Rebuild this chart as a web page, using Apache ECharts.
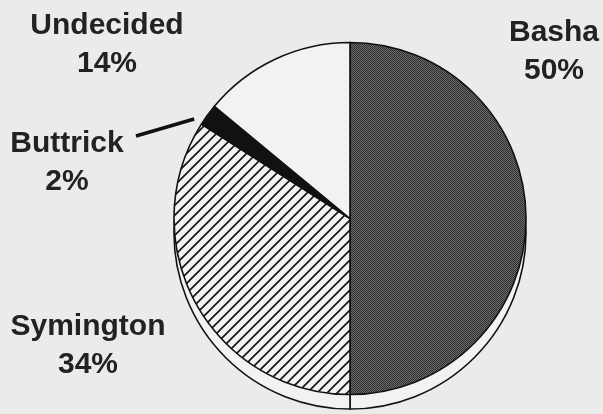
<!DOCTYPE html>
<html><head><meta charset="utf-8">
<script src="https://cdn.jsdelivr.net/npm/echarts@6/dist/echarts.min.js"></script>
<style>html,body{margin:0;padding:0;background:#ebebeb}#c{width:603px;height:414px}</style>
</head><body><div id="c"></div>
<script>
const categories = ['Basha', 'Symington', 'Buttrick', 'Undecided'];
const shares = [50, 34, 2, 14];

function hatch() {
  const c = document.createElement('canvas'); c.width = 10; c.height = 10;
  const g = c.getContext('2d');
  g.fillStyle = '#f2f2f2'; g.fillRect(0, 0, 10, 10);
  g.strokeStyle = '#111'; g.lineWidth = 1.6;
  g.beginPath();
  g.moveTo(-5, 5); g.lineTo(5, -5);
  g.moveTo(0, 10); g.lineTo(10, 0);
  g.moveTo(5, 15); g.lineTo(15, 5);
  g.stroke();
  return c;
}
function halftone() {
  const c = document.createElement('canvas'); c.width = 2; c.height = 2;
  const g = c.getContext('2d');
  g.fillStyle = '#6a6a6a'; g.fillRect(0, 0, 2, 2);
  g.fillStyle = '#303030'; g.fillRect(0, 0, 1, 1); g.fillRect(1, 1, 1, 1);
  return c;
}
const fills = [
  { image: halftone(), repeat: 'repeat' },
  { image: hatch(), repeat: 'repeat' },
  '#111',
  '#f2f2f2'
];
const labelPos = [[554, 52], [88, 346], [67, 163], [107, 45]];

const chart = echarts.init(document.getElementById('c'));
const mainData = categories.map((n, i) => ({
  name: n, value: shares[i],
  itemStyle: { color: fills[i] },
  labelLine: { show: n === 'Buttrick' }
}));
const shadowData = categories.map((n, i) => ({ name: n, value: shares[i] }));

chart.setOption({
  backgroundColor: '#ebebeb',
  animation: false,
  series: [
    {
      type: 'pie', silent: true, z: 1,
      center: [350, 233], radius: 176, startAngle: 90, clockwise: true,
      data: shadowData,
      itemStyle: { color: '#f2f2f2', borderColor: '#111', borderWidth: 1.6 },
      label: { show: false }, labelLine: { show: false }
    },
    {
      type: 'pie', silent: true, z: 2,
      center: [350, 218.5], radius: 176, startAngle: 90, clockwise: true,
      data: mainData,
      itemStyle: { borderColor: '#111', borderWidth: 1.6 },
      label: {
        show: true, position: 'outside', overflow: 'none',
        formatter: '{b}\n{c}%',
        fontFamily: 'Liberation Sans, Arial, sans-serif',
        fontWeight: 'bold', fontSize: 30, lineHeight: 38, color: '#222'
      },
      labelLine: { lineStyle: { color: '#111', width: 3.5 } },
      labelLayout: p => {
        const pos = labelPos[p.dataIndex];
        const out = { x: pos[0], y: pos[1], align: 'center', verticalAlign: 'middle' };
        if (p.labelLinePoints) {
          const a = p.labelLinePoints[0];
          const end = [pos[0] + 69, pos[1] - 27];
          const dx = end[0] - a[0], dy = end[1] - a[1];
          const len = Math.hypot(dx, dy);
          const start = [a[0] + dx / len * 14, a[1] + dy / len * 14];
          out.labelLinePoints = [start, [(start[0] + end[0]) / 2, (start[1] + end[1]) / 2], end];
        }
        return out;
      }
    }
  ]
});
</script></body></html>
